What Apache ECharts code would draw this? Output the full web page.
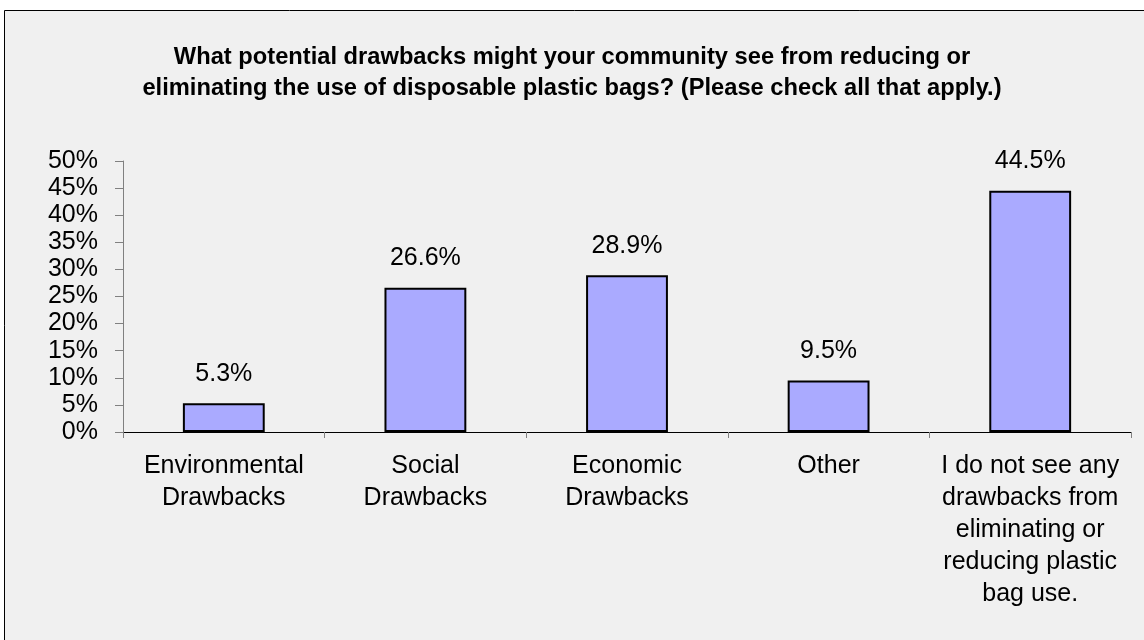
<!DOCTYPE html>
<html>
<head>
<meta charset="utf-8">
<script src="https://cdn.jsdelivr.net/npm/echarts@6/dist/echarts.min.js"></script>
<style>
html,body{margin:0;padding:0;background:#ffffff;}
#chart{width:1144px;height:640px;}
</style>
</head>
<body>
<div id="chart"></div>
<script>
const titleText = "What potential drawbacks might your community see from reducing or\neliminating the use of disposable plastic bags? (Please check all that apply.)";
const categories = [
  "Environmental\nDrawbacks",
  "Social\nDrawbacks",
  "Economic\nDrawbacks",
  "Other",
  "I do not see any\ndrawbacks from\neliminating or\nreducing plastic\nbag use."
];
const values = [5.3, 26.6, 28.9, 9.5, 44.5];
const yMin = 0, yMax = 50, yStep = 5;

const FONT = "Liberation Sans, Arial, sans-serif";
const chart = echarts.init(document.getElementById('chart'), null, {renderer: 'canvas'});
chart.setOption({
  backgroundColor: '#ffffff',
  animation: false,
  graphic: [{
    type: 'rect', z: -10,
    shape: {x: 4.5, y: 10.5, width: 1160, height: 660},
    style: {fill: '#f0f0f0', stroke: '#000000', lineWidth: 1}
  }],
  title: {
    text: titleText,
    left: 'center',
    top: 42,
    padding: 0,
    textStyle: {fontFamily: FONT, fontSize: 23.7, fontWeight: 'bold', color: '#000', lineHeight: 31}
  },
  grid: {left: 123, right: 13, top: 161, bottom: 208, containLabel: false},
  xAxis: {
    type: 'category',
    data: categories,
    axisLine: {lineStyle: {color: '#000', width: 1}},
    axisTick: {show: true, length: 6, lineStyle: {color: '#808080'}},
    axisLabel: {fontFamily: FONT, fontSize: 25, color: '#000', lineHeight: 32, margin: 18, interval: 0}
  },
  yAxis: {
    type: 'value',
    min: yMin, max: yMax, interval: yStep,
    axisLine: {show: true, lineStyle: {color: '#808080'}},
    axisTick: {show: true, length: 8, lineStyle: {color: '#808080'}},
    splitLine: {show: false},
    axisLabel: {fontFamily: FONT, fontSize: 25, color: '#000', margin: 25, formatter: '{value}%'}
  },
  series: [{
    type: 'bar',
    data: values,
    barWidth: '40.6%',
    itemStyle: {color: '#aaaaff', borderColor: '#000', borderWidth: 2},
    label: {show: true, position: 'top', distance: 17, fontFamily: FONT, fontSize: 25, color: '#000', formatter: '{c}%'}
  }]
});
</script>
</body>
</html>
